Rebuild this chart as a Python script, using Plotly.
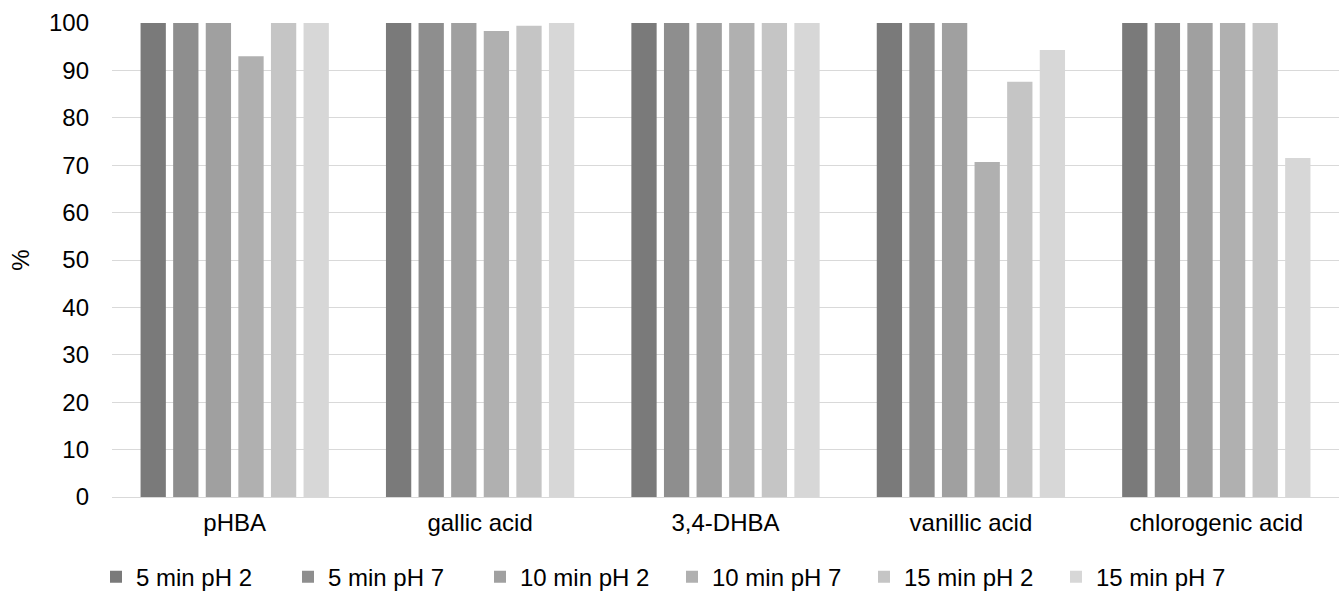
import plotly.graph_objects as go

categories = ["pHBA", "gallic acid", "3,4-DHBA", "vanillic acid", "chlorogenic acid"]
series_names = ["5 min pH 2", "5 min pH 7", "10 min pH 2", "10 min pH 7", "15 min pH 2", "15 min pH 7"]
s_5_ph2 = [100, 100, 100, 100, 100]
s_5_ph7 = [100, 100, 100, 100, 100]
s_10_ph2 = [100, 100, 100, 100, 100]
s_10_ph7 = [93.0, 98.3, 100, 70.7, 100]
s_15_ph2 = [100, 99.4, 100, 87.6, 100]
s_15_ph7 = [100, 100, 100, 94.3, 71.5]
series_values = [s_5_ph2, s_5_ph7, s_10_ph2, s_10_ph7, s_15_ph2, s_15_ph7]
colors = ["#7a7a7a", "#8e8e8e", "#a0a0a0", "#b0b0b0", "#c5c5c5", "#d7d7d7"]
y_ticks = [0, 10, 20, 30, 40, 50, 60, 70, 80, 90, 100]

fig = go.Figure()
for name, vals, c in zip(series_names, series_values, colors):
    fig.add_trace(go.Bar(x=categories, y=vals, name=name, marker=dict(color=c, line=dict(width=0))))

font = "Liberation Sans, Arial, sans-serif"
fig.update_layout(
    width=1344, height=597,
    margin=dict(l=112, r=5, t=23, b=100),
    paper_bgcolor="white", plot_bgcolor="white",
    barmode="group", bargap=0.203, bargroupgap=0.224,
    font=dict(family=font, size=24, color="#000000"),
    showlegend=True,
    legend=dict(orientation="h", xref="container", x=0.5, xanchor="center",
                yref="container", y=0.071, yanchor="top",
                font=dict(size=24), itemwidth=30, entrywidth=147, entrywidthmode="pixels",
                traceorder="normal"),
    xaxis=dict(showline=True, linecolor="#d9d9d9", linewidth=1, ticks="",
               tickfont=dict(size=24), showgrid=False, ticklabelstandoff=4),
    yaxis=dict(range=[0, 100], tickvals=y_ticks, showgrid=True, gridcolor="#d9d9d9",
               gridwidth=1, zeroline=False, showline=False, ticks="",
               tickfont=dict(size=24), ticklabelstandoff=22,
               title=dict(text="%", font=dict(size=24), standoff=12)),
)
fig.write_html("out.html")
